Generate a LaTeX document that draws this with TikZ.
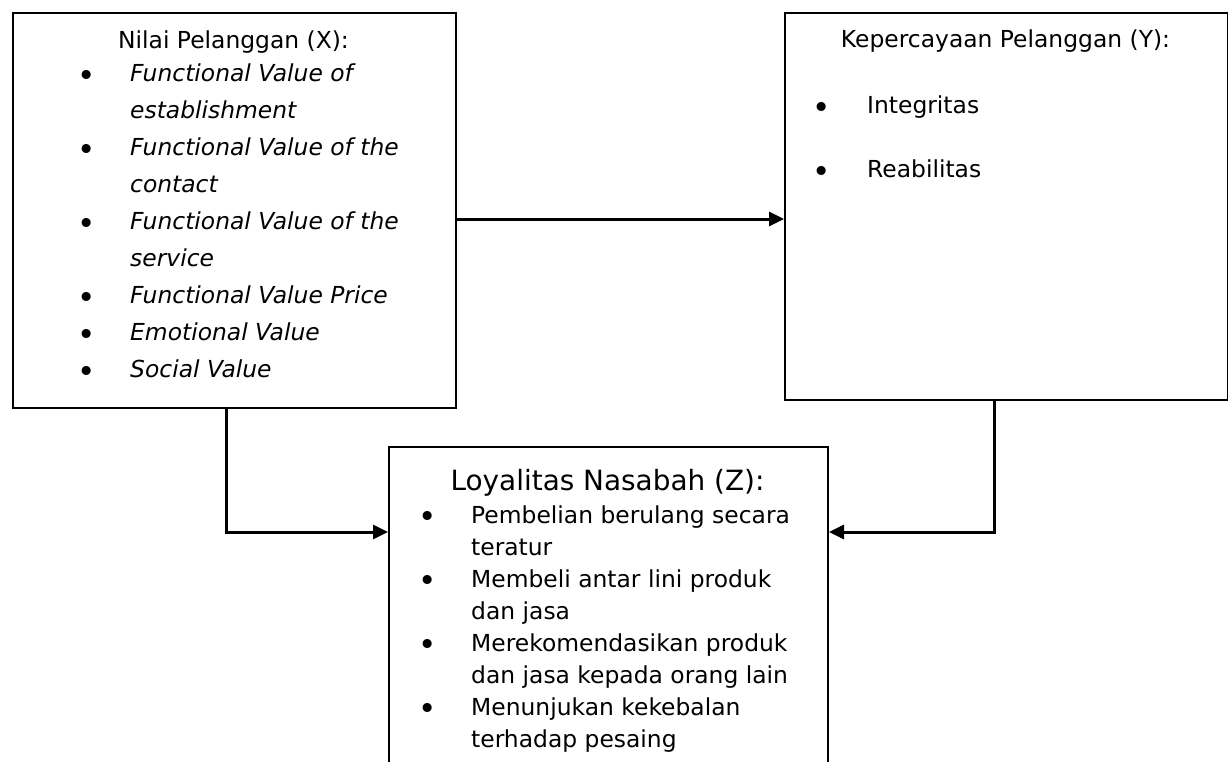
\documentclass[tikz,border=0pt]{standalone}
\usepackage{fontspec}
\setmainfont{DejaVu Sans}
\usetikzlibrary{arrows.meta}
\newcommand\itemfont{\fontsize{23.4}{28}\selectfont}
\newcommand\ttlfont{\fontsize{27.9}{33}\selectfont}
\newcommand\bulfont{\fontsize{31}{31}\selectfont}
\begin{document}
\begin{tikzpicture}[x=1pt,y=-1pt,
  boxnode/.style={draw=black,line width=2pt,rectangle,inner sep=0pt,anchor=north west},
  txt/.style={inner sep=0pt,anchor=base west,font=\itemfont},
  ittxt/.style={inner sep=0pt,anchor=base west,font=\itemfont\itshape},
  bul/.style={inner sep=0pt,anchor=base,font=\bulfont,yshift=-4.8pt},
  ttl/.style={inner sep=0pt,anchor=base,font=\itemfont},
  bigttl/.style={inner sep=0pt,anchor=base,font=\ttlfont},
  arr/.style={line width=3pt,-{Triangle[length=15pt,width=14pt]}}]
\clip (0,0) rectangle (1228,762);
\fill[white] (0,0) rectangle (1228,762);
% boxes
\node[boxnode,minimum width=443pt,minimum height=395pt] (X) at (12,12) {};
\node[boxnode,minimum width=443pt,minimum height=387pt] (Y) at (784,12) {};
\node[boxnode,minimum width=439pt,minimum height=380pt] (Z) at (388,446) {};
% box X text
\node[ttl] (xt) at (233.5,49) {Nilai Pelanggan (X):};
\node[bul] (xb1) at (87,82) {•};
\node[ittxt] (x1a) at (130,82) {Functional Value of};
\node[ittxt] (x1b) at (130,118.9) {establishment};
\node[bul] (xb2) at (87,155.8) {•};
\node[ittxt] (x2a) at (130,155.8) {Functional Value of the};
\node[ittxt] (x2b) at (130,192.7) {contact};
\node[bul] (xb3) at (87,229.6) {•};
\node[ittxt] (x3a) at (130,229.6) {Functional Value of the};
\node[ittxt] (x3b) at (130,266.5) {service};
\node[bul] (xb4) at (87,303.4) {•};
\node[ittxt] (x4) at (130,303.4) {Functional Value Price};
\node[bul] (xb5) at (87,340.3) {•};
\node[ittxt] (x5) at (130,340.3) {Emotional Value};
\node[bul] (xb6) at (87,377.2) {•};
\node[ittxt] (x6) at (130,377.2) {Social Value};
% box Y text
\node[ttl] (yt) at (1005.5,48) {Kepercayaan Pelanggan (Y):};
\node[bul] (yb1) at (822,114) {•};
\node[txt] (y1) at (867,114) {Integritas};
\node[bul] (yb2) at (822,178) {•};
\node[txt] (y2) at (867,178) {Reabilitas};
% box Z text
\node[bigttl] (zt) at (607.5,490) {Loyalitas Nasabah (Z):};
\node[bul] (zb1) at (428,523) {•};
\node[txt] (z1a) at (471,523) {Pembelian berulang secara};
\node[txt] (z1b) at (471,555) {teratur};
\node[bul] (zb2) at (428,587) {•};
\node[txt] (z2a) at (471,587) {Membeli antar lini produk};
\node[txt] (z2b) at (471,619) {dan jasa};
\node[bul] (zb3) at (428,651) {•};
\node[txt] (z3a) at (471,651) {Merekomendasikan produk};
\node[txt] (z3b) at (471,683) {dan jasa kepada orang lain};
\node[bul] (zb4) at (428,715) {•};
\node[txt] (z4a) at (471,715) {Menunjukan kekebalan};
\node[txt] (z4b) at (471,747) {terhadap pesaing};
% connectors
\coordinate (mxy) at (0,219);
\coordinate (lx) at (226,532);
\coordinate (rx) at (994,532);
\draw[arr] (X.east |- mxy) -- (Y.west |- mxy);
\draw[arr] (X.south -| lx) |- (Z.west |- lx);
\draw[arr] (Y.south -| rx) |- (Z.east |- rx);
\end{tikzpicture}
\end{document}
